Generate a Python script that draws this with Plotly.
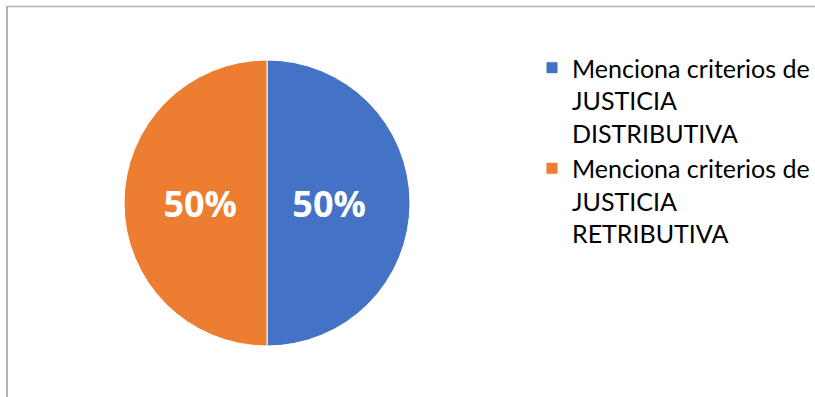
import plotly.graph_objects as go

labels = ["Menciona criterios de<br>JUSTICIA<br>DISTRIBUTIVA",
          "Menciona criterios de<br>JUSTICIA<br>RETRIBUTIVA"]
values = [50, 50]
colors = ["#4472C4", "#ED7D31"]
label_templates = ["%{percent}\u00a0\u00a0", "\u00a0%{percent}"]

W, H = 815, 397
cx, cy, r = 267, 203, 143

fig = go.Figure(go.Pie(
    labels=labels, values=values, sort=False, direction="clockwise", rotation=0,
    marker=dict(colors=colors, line=dict(color="white", width=1)),
    texttemplate=label_templates, textposition="inside", insidetextorientation="horizontal",
    textfont=dict(family="Open Sans", size=36, color="white", weight="bold"),
    domain=dict(x=[(cx - r) / W, (cx + r) / W], y=[(H - cy - r) / H, (H - cy + r) / H]),
    hoverinfo="label+percent",
))

fig.update_layout(
    width=W, height=H,
    margin=dict(l=0, r=0, t=0, b=0),
    paper_bgcolor="white", plot_bgcolor="white",
    showlegend=True,
    legend=dict(x=532 / W, y=1 - 45 / H, xanchor="left", yanchor="top",
                valign="top", font=dict(family="Lato", size=25, color="#000000"),
                bgcolor="rgba(0,0,0,0)"),
    shapes=[
        dict(type="line", xref="paper", yref="paper", x0=6 / W, x1=1, y0=1 - 6.5 / H, y1=1 - 6.5 / H,
             line=dict(color="#b3b3b3", width=1.5)),
        dict(type="line", xref="paper", yref="paper", x0=7 / W, x1=7 / W, y0=0, y1=1 - 6 / H,
             line=dict(color="#b3b3b3", width=2)),
    ],
)

fig.write_html("out.html", config={"displayModeBar": False},
               post_script="document.body.style.margin='0px';")
